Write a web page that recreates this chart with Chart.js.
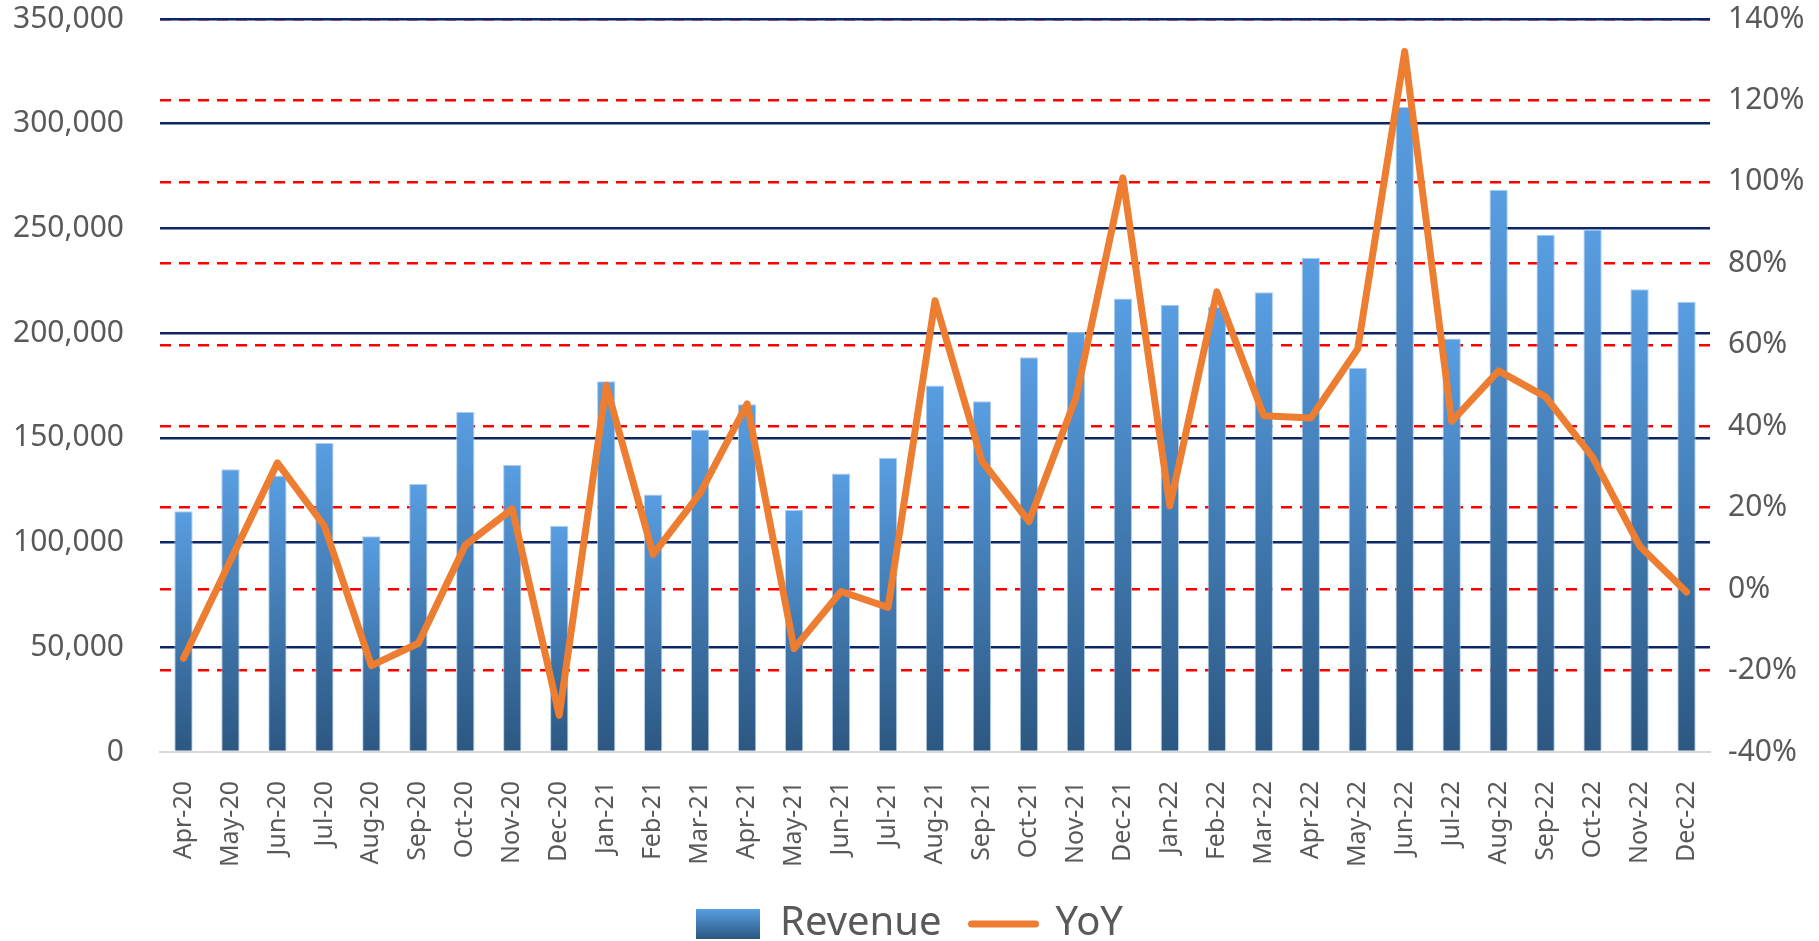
<!DOCTYPE html>
<html>
<head>
<meta charset="utf-8">
<script src="https://cdn.jsdelivr.net/npm/chart.js@4"></script>
<style>
    html, body { margin: 0; padding: 0; background: #fff; }
    #wrap { width: 1819px; height: 941px; }
</style>
</head>
<body>
<div id="wrap"><canvas id="revenue-graph"></canvas></div>
<script>
let months = ['Apr-20', 'May-20', 'Jun-20', 'Jul-20', 'Aug-20', 'Sep-20', 'Oct-20', 'Nov-20', 'Dec-20',
    'Jan-21', 'Feb-21', 'Mar-21', 'Apr-21', 'May-21', 'Jun-21', 'Jul-21', 'Aug-21', 'Sep-21', 'Oct-21', 'Nov-21', 'Dec-21',
    'Jan-22', 'Feb-22', 'Mar-22', 'Apr-22', 'May-22', 'Jun-22', 'Jul-22', 'Aug-22', 'Sep-22', 'Oct-22', 'Nov-22', 'Dec-22'];

let revenue = [
    115000, 135000, 132000, 147500, 103000, 128000, 162500, 137000, 108000,
    177000, 123000, 154000, 166000, 115500, 133000, 140500, 175000, 167500, 188500, 200500, 216500,
    213500, 212500, 219500, 236000, 183500, 308000, 197500, 268500, 247000, 249500, 221000, 215000
];

// YoY growth, in percent
let yoy = [
    -17, 7, 31, 15.5, -18.8, -13.3, 10.8, 19.7, -31,
    50, 8.5, 23.6, 45.5, -14.6, -0.6, -4.5, 70.8, 31.4, 16.6, 47, 101,
    20.4, 73, 42.6, 42, 59, 132, 41.2, 53.6, 47.2, 32.4, 10.6, -0.7
];

let revenueTicks = { min: 0, max: 350000, step: 50000 };
let yoyTicks = { min: -40, max: 140, step: 20 };

let labelGrey = '#595959';
let fontName = "'Noto Sans', 'Open Sans', sans-serif";

function barFill(context) {
    let chart = context.chart;
    if (!chart.chartArea || context.raw === undefined) return '#4a86c8';
    let y = chart.scales.y;
    let top = y.getPixelForValue(context.raw);
    let bottom = y.getPixelForValue(0);
    let g = chart.ctx.createLinearGradient(0, top, 0, bottom);
    g.addColorStop(0, '#589ee2');
    g.addColorStop(1, '#2c5781');
    return g;
}

// no grid line on the bottom edge, the x axis line sits there
function gridColour(colour) {
    return function(context) {
        return context.index === 0 ? 'rgba(0,0,0,0)' : colour;
    };
}

let revChart = document.getElementById('revenue-graph').getContext('2d');

let revenueChart = new Chart(revChart, {
    type: 'bar',
    data: {
        labels: months,
        datasets: [{
            label: 'Revenue',
            data: revenue,
            backgroundColor: barFill,
            borderColor: 'rgba(170, 200, 232, 0.9)',
            borderWidth: 1,
            barPercentage: 0.39,
            categoryPercentage: 1,
            yAxisID: 'y',
            order: 1
        }, {
            type: 'line',
            label: 'YoY',
            data: yoy,
            borderColor: '#ed7d31',
            borderWidth: 7,
            borderJoinStyle: 'round',
            borderCapStyle: 'round',
            pointRadius: 0,
            tension: 0,
            yAxisID: 'y1',
            order: 0
        }]
    },
    options: {
        responsive: true,
        maintainAspectRatio: false,
        animation: false,
        layout: { padding: { top: 0, left: 0, right: 0, bottom: -13 } },
        plugins: {
            tooltip: { enabled: false },
            legend: {
                position: 'bottom',
                labels: {
                    usePointStyle: true,
                    pointStyleWidth: 64,
                    boxHeight: 30,
                    padding: 30,
                    color: labelGrey,
                    font: { family: fontName, size: 40 },
                    generateLabels: function(chart) {
                        let L = chart.legend;
                        let mid = (L && L.bottom) ? L.top + 30 + 20 : 0;
                        let g = chart.ctx.createLinearGradient(0, mid - 15, 0, mid + 15);
                        g.addColorStop(0, '#589ee2');
                        g.addColorStop(1, '#2c5781');
                        return [{
                            text: 'Revenue', fillStyle: g, strokeStyle: 'rgba(0,0,0,0)', lineWidth: 0,
                            pointStyle: 'rect', datasetIndex: 0, fontColor: labelGrey
                        }, {
                            text: 'YoY', fillStyle: '#ed7d31', strokeStyle: '#ed7d31', lineWidth: 7,
                            lineCap: 'round', pointStyle: 'line', datasetIndex: 1, fontColor: labelGrey
                        }];
                    }
                }
            }
        },
        scales: {
            x: {
                offset: true,
                grid: { display: false, drawTicks: false },
                border: { display: true, color: '#d9d9d9', width: 2, z: 1 },
                ticks: {
                    autoSkip: false,
                    minRotation: 90,
                    maxRotation: 90,
                    padding: 29,
                    color: labelGrey,
                    font: { family: fontName, size: 25 }
                },
                afterFit: function(scale) { scale.height = 122; }
            },
            y1: {
                position: 'right',
                min: yoyTicks.min,
                max: yoyTicks.max,
                grid: { color: gridColour('#ff0000'), lineWidth: 2.5, drawTicks: false },
                border: { display: false, dash: [11, 8] },
                ticks: {
                    stepSize: yoyTicks.step,
                    padding: 18,
                    color: labelGrey,
                    font: { family: fontName, size: 30 },
                    callback: function(v) { return v + '%'; }
                },
                afterFit: function(scale) {
                    scale.width = 109;
                    scale.paddingTop = 19;
                    scale.paddingBottom = 0;
                }
            },
            y: {
                position: 'left',
                min: revenueTicks.min,
                max: revenueTicks.max,
                grid: { color: gridColour('#0b2566'), lineWidth: 2.5, drawTicks: false },
                border: { display: false },
                ticks: {
                    stepSize: revenueTicks.step,
                    padding: 36,
                    color: labelGrey,
                    font: { family: fontName, size: 30 },
                    callback: function(v) { return v.toLocaleString('en-US'); }
                },
                afterFit: function(scale) {
                    scale.width = 160;
                    scale.paddingTop = 19;
                    scale.paddingBottom = 0;
                }
            }
        }
    }
});
</script>
</body>
</html>
